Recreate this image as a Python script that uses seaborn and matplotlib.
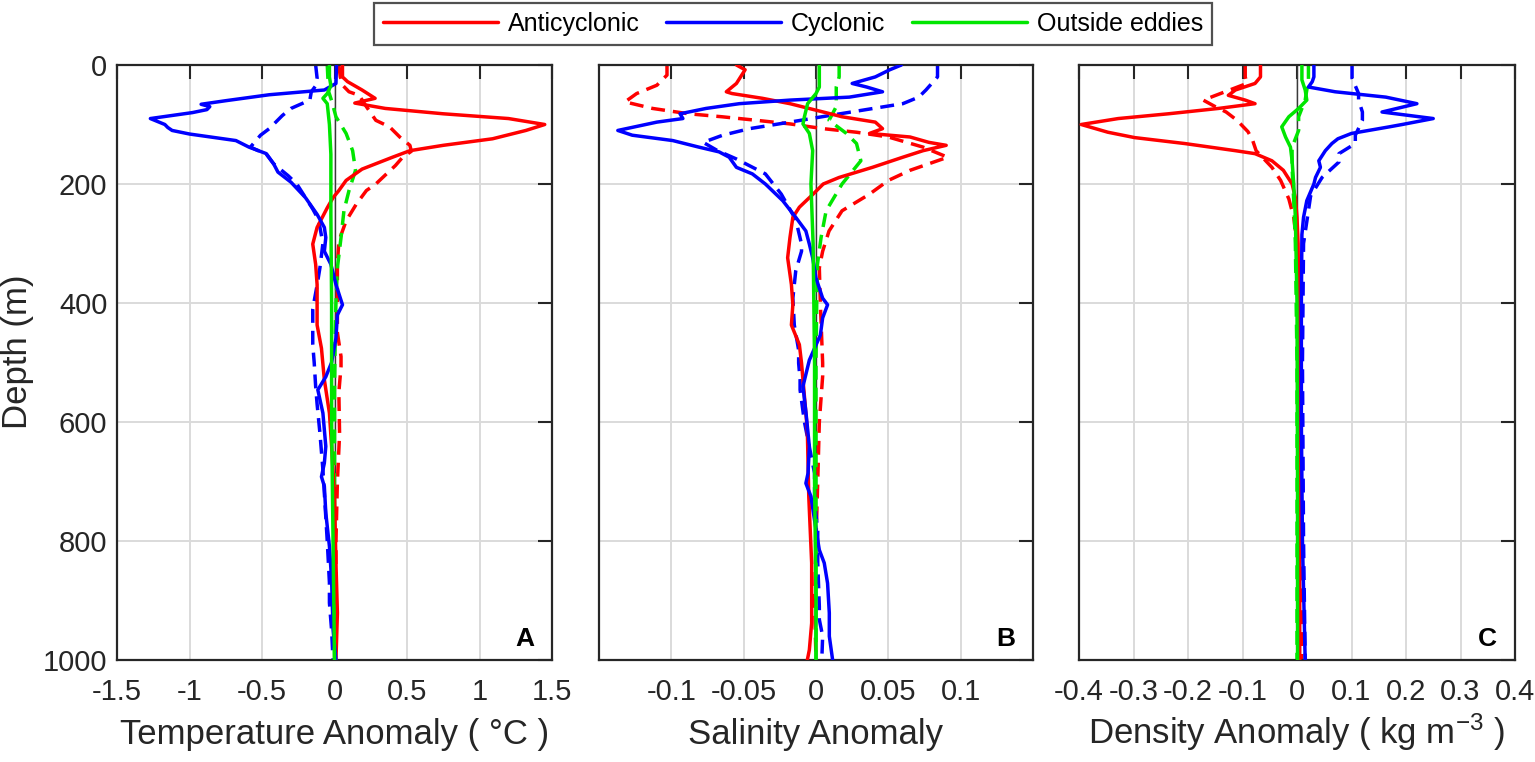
import matplotlib
matplotlib.use("Agg")
import matplotlib.pyplot as plt
import seaborn as sns

# ---------------- data ----------------
# Panel A: temperature anomaly (deg C) vs depth (m)
temp_anti_z = [0, 20, 28, 42, 56, 64, 73, 82, 90, 100, 110, 124, 135, 144, 155, 175, 194, 211, 223, 240, 273, 301,
               335, 369, 403, 437, 476, 529, 585, 641, 725, 837, 921, 1000]
temp_anti = [0.055, 0.055, 0.09, 0.19, 0.28, 0.14, 0.35, 0.75, 1.2, 1.45, 1.32, 1.09, 0.75, 0.52, 0.40, 0.19, 0.08,
             0.03, -0.01, -0.05, -0.12, -0.15, -0.13, -0.12, -0.12, -0.12, -0.09, -0.07, -0.035, -0.02, 0.0, 0.01,
             0.02, 0.01]
temp_anti_dash_z = [0, 20, 35, 45, 51, 70, 93, 104, 121, 135, 145, 155, 169, 185, 200, 211, 234, 262, 279, 296, 335,
                    400, 450, 490, 507, 550, 620, 700, 800, 900, 1000]
temp_anti_dash = [0.03, 0.04, 0.06, 0.10, 0.17, 0.22, 0.285, 0.38, 0.45, 0.52, 0.53, 0.47, 0.42, 0.35, 0.285, 0.22,
                  0.15, 0.08, 0.055, 0.03, 0.02, 0.02, 0.02, 0.045, 0.045, 0.03, 0.035, 0.02, 0.01, 0.01, 0.01]
temp_cyc_z = [0, 31, 42, 50, 60, 66, 70, 75, 80, 90, 100, 105, 110, 116, 127, 138, 149, 166, 180, 197, 223, 251, 273,
              290, 313, 335, 369, 403, 420, 459, 500, 524, 546, 585, 641, 669, 692, 708, 753, 809, 865, 949, 1000]
temp_cyc = [0.014, 0.01, -0.07, -0.45, -0.75, -0.92, -0.86, -0.88, -0.98, -1.27, -1.17, -1.15, -1.12, -1.0, -0.68,
            -0.59, -0.47, -0.42, -0.39, -0.30, -0.20, -0.12, -0.07, -0.06, -0.07, -0.025, 0.01, 0.055, 0.02, 0.01,
            -0.02, -0.06, -0.115, -0.08, -0.06, -0.07, -0.09, -0.07, -0.06, -0.035, -0.02, -0.01, 0.01]
temp_cyc_dash_z = [0, 22, 35, 45, 59, 73, 85, 107, 118, 138, 150, 166, 186, 200, 242, 260, 300, 340, 370, 410, 440,
                   470, 500, 540, 570, 620, 680, 760, 800, 870, 904, 950, 1000]
temp_cyc_dash = [-0.13, -0.12, -0.13, -0.16, -0.17, -0.30, -0.36, -0.45, -0.51, -0.58, -0.47, -0.42, -0.32, -0.26,
                 -0.15, -0.11, -0.08, -0.10, -0.12, -0.15, -0.15, -0.15, -0.14, -0.13, -0.12, -0.10, -0.08, -0.06,
                 -0.05, -0.035, -0.035, -0.02, -0.01]
temp_out_z = [0, 20, 35, 48, 56, 65, 100, 150, 250, 400, 600, 800, 1000]
temp_out = [-0.035, -0.035, -0.025, -0.05, -0.08, -0.05, -0.035, -0.025, -0.025, -0.02, -0.02, -0.01, 0.0]
temp_out_dash_z = [0, 25, 45, 60, 87, 115, 144, 177, 211, 245, 290, 341, 400, 450, 550, 700, 1000]
temp_out_dash = [-0.05, -0.045, -0.04, -0.02, 0.01, 0.08, 0.125, 0.145, 0.10, 0.065, 0.045, 0.02, 0.01, 0.005, 0.0,
                 0.0, 0.0]

# Panel B: salinity anomaly vs depth (m)
sal_anti_z = [0, 8, 31, 45, 48, 56, 65, 79, 87, 96, 107, 115, 121, 130, 135, 144, 155, 172, 189, 200, 217, 239, 256,
              290, 324, 369, 403, 437, 470, 501, 557, 613, 725, 837, 938, 983, 1000]
sal_anti = [-0.055, -0.049, -0.055, -0.062, -0.058, -0.037, -0.018, 0.005, 0.018, 0.041, 0.046, 0.037, 0.065, 0.078,
            0.09, 0.074, 0.06, 0.039, 0.016, 0.005, -0.002, -0.0115, -0.016, -0.018, -0.0196, -0.017, -0.016, -0.017,
            -0.0115, -0.010, -0.008, -0.006, -0.005, -0.003, -0.003, -0.0046, -0.006]
sal_anti_dash_z = [0, 17, 34, 48, 62, 73, 82, 87, 93, 99, 107, 113, 121, 138, 155, 177, 194, 217, 245, 279, 313, 341,
                   400, 501, 523, 600, 700, 800, 900, 1000]
sal_anti_dash = [-0.103, -0.103, -0.11, -0.124, -0.132, -0.113, -0.088, -0.065, -0.041, -0.018, 0.005, 0.028, 0.05,
                 0.074, 0.091, 0.065, 0.05, 0.037, 0.018, 0.009, 0.0046, 0.0023, 0.003, 0.0046, 0.0046, 0.0023,
                 0.0012, 0.0, -0.001, 0.0]
sal_cyc_z = [0, 8, 20, 31, 37, 45, 54, 59, 65, 73, 82, 90, 96, 110, 118, 127, 138, 146, 155, 172, 183, 200, 228, 256,
             279, 301, 324, 358, 392, 403, 425, 454, 496, 540, 585, 641, 686, 703, 725, 781, 815, 837, 871, 921, 960,
             1000]
sal_cyc = [0.059, 0.051, 0.041, 0.025, 0.035, 0.046, 0.023, -0.018, -0.053, -0.076, -0.094, -0.092, -0.11, -0.137,
           -0.127, -0.099, -0.081, -0.067, -0.06, -0.055, -0.044, -0.035, -0.023, -0.014, -0.007, -0.0046, -0.0023,
           0.0, 0.0046, 0.008, 0.0046, 0.003, -0.0046, -0.009, -0.0069, -0.0046, -0.0055, -0.007, -0.0035, 0.0,
           0.0023, 0.0057, 0.008, 0.0092, 0.0092, 0.0115]
sal_cyc_dash_z = [0, 20, 42, 54, 65, 76, 85, 96, 107, 118, 130, 144, 158, 183, 217, 260, 301, 313, 346, 392, 437, 479,
                  501, 529, 546, 600, 686, 736, 781, 837, 910, 932, 960, 1000]
sal_cyc_dash = [0.084, 0.084, 0.076, 0.071, 0.06, 0.032, 0.009, -0.018, -0.046, -0.0645, -0.078, -0.068, -0.055,
                -0.035, -0.024, -0.014, -0.010, -0.010, -0.014, -0.016, -0.015, -0.012, -0.012, -0.011, -0.011,
                -0.008, -0.001, -0.001, 0.0012, 0.0012, 0.0023, 0.0023, 0.0046, 0.004]
sal_out_z = [0, 37, 48, 65, 87, 99, 115, 144, 200, 300, 500, 700, 900, 1000]
sal_out = [0.0023, 0.0023, 0.0, -0.0058, -0.008, -0.009, -0.0046, -0.0023, -0.0035, -0.002, -0.001, -0.001, 0.0, 0.0]
sal_out_dash_z = [0, 20, 37, 70, 93, 115, 132, 161, 200, 245, 290, 335, 400, 500, 700, 1000]
sal_out_dash = [0.016, 0.016, 0.014, 0.014, 0.009, 0.021, 0.028, 0.031, 0.018, 0.007, 0.0035, 0.001, 0.0005, 0.0,
                0.0, 0.0]

# Panel C: density anomaly (kg m-3) vs depth (m)
dens_anti_z = [0, 20, 31, 42, 51, 59, 65, 73, 82, 90, 100, 113, 122, 132, 144, 149, 161, 177, 200, 223, 256, 300, 400,
               600, 800, 1000]
dens_anti = [-0.067, -0.067, -0.077, -0.113, -0.126, -0.095, -0.077, -0.144, -0.236, -0.328, -0.396, -0.347, -0.298,
             -0.206, -0.113, -0.077, -0.046, -0.025, -0.009, -0.003, 0.0, 0.002, 0.003, 0.004, 0.005, 0.005]
dens_anti_dash_z = [0, 20, 31, 59, 70, 79, 93, 112, 125, 144, 172, 194, 225, 256, 300, 400, 600, 800, 1000]
dens_anti_dash = [-0.095, -0.095, -0.092, -0.172, -0.15, -0.13, -0.11, -0.09, -0.082, -0.075, -0.046, -0.03, -0.015,
                  -0.006, 0.0, 0.005, 0.008, 0.008, 0.008]
dens_cyc_z = [0, 20, 28, 37, 45, 54, 65, 79, 90, 100, 104, 115, 124, 132, 144, 161, 172, 189, 200, 228, 256, 285, 400,
              600, 800, 1000]
dens_cyc = [0.031, 0.031, 0.028, 0.021, 0.07, 0.163, 0.22, 0.156, 0.25, 0.193, 0.169, 0.10, 0.075, 0.064, 0.052,
            0.04, 0.043, 0.034, 0.031, 0.018, 0.012, 0.009, 0.008, 0.008, 0.01, 0.015]
dens_cyc_dash_z = [0, 22, 48, 59, 79, 93, 118, 132, 149, 163, 189, 220, 300, 500, 800, 1000]
dens_cyc_dash = [0.101, 0.101, 0.113, 0.113, 0.12, 0.12, 0.107, 0.107, 0.077, 0.077, 0.046, 0.025, 0.012, 0.01,
                 0.012, 0.015]
dens_out_z = [0, 25, 42, 59, 73, 87, 104, 121, 138, 161, 200, 256, 400, 700, 1000]
dens_out = [0.009, 0.009, 0.015, 0.018, 0.003, -0.015, -0.028, -0.021, -0.012, -0.009, -0.006, -0.003, 0.0, 0.001,
            0.001]
dens_out_dash_z = [0, 25, 42, 59, 87, 110, 138, 172, 228, 300, 500, 1000]
dens_out_dash = [0.021, 0.021, 0.018, 0.015, 0.003, 0.003, -0.009, -0.009, -0.006, -0.003, 0.0, 0.0]

# legend / axis text
series_labels = ["Anticyclonic", "Cyclonic", "Outside eddies"]
series_colors = ["#ff0000", "#0000ff", "#00e600"]
depth_ticks = [0, 200, 400, 600, 800, 1000]
temp_ticks = [-1.5, -1, -0.5, 0, 0.5, 1, 1.5]
temp_ticklabels = ["-1.5", "-1", "-0.5", "0", "0.5", "1", "1.5"]
sal_ticks = [-0.1, -0.05, 0, 0.05, 0.1]
sal_ticklabels = ["-0.1", "-0.05", "0", "0.05", "0.1"]
dens_ticks = [-0.4, -0.3, -0.2, -0.1, 0, 0.1, 0.2, 0.3, 0.4]
dens_ticklabels = ["-0.4", "-0.3", "-0.2", "-0.1", "0", "0.1", "0.2", "0.3", "0.4"]
zero_ref = 0.0

# ---------------- style ----------------
sns.set_theme(style="white")
plt.rcParams['font.family'] = ['Liberation Sans', 'DejaVu Sans']
plt.rcParams['axes.unicode_minus'] = False
plt.rcParams['mathtext.fontset'] = 'custom'
plt.rcParams['mathtext.rm'] = 'Liberation Sans'
plt.rcParams['mathtext.it'] = 'Liberation Sans:italic'
TXT = '#262626'
GRID = '#dadada'
DASH = (0, (4, 2.3))
LW = 2.5

W, H = 1535, 762
fig = plt.figure(figsize=(W / 100, H / 100), dpi=100)
AX_TOP, AX_BOT = 65, 660
bottom = (H - AX_BOT) / H
height = (AX_BOT - AX_TOP) / H

panels = [
    dict(x0=117, x1=552, xlim=(-1.5, 1.5), ticks=temp_ticks, labels=temp_ticklabels,
         xlabel='Temperature Anomaly ( °C )', letter='A',
         data=[(temp_anti, temp_anti_z, temp_anti_dash, temp_anti_dash_z),
               (temp_cyc, temp_cyc_z, temp_cyc_dash, temp_cyc_dash_z),
               (temp_out, temp_out_z, temp_out_dash, temp_out_dash_z)]),
    dict(x0=599, x1=1033, xlim=(-0.15, 0.15), ticks=sal_ticks, labels=sal_ticklabels,
         xlabel='Salinity Anomaly', letter='B',
         data=[(sal_anti, sal_anti_z, sal_anti_dash, sal_anti_dash_z),
               (sal_cyc, sal_cyc_z, sal_cyc_dash, sal_cyc_dash_z),
               (sal_out, sal_out_z, sal_out_dash, sal_out_dash_z)]),
    dict(x0=1079, x1=1515, xlim=(-0.4, 0.4), ticks=dens_ticks, labels=dens_ticklabels,
         xlabel='Density Anomaly ( kg m$^{-3}$ )', letter='C',
         data=[(dens_anti, dens_anti_z, dens_anti_dash, dens_anti_dash_z),
               (dens_cyc, dens_cyc_z, dens_cyc_dash, dens_cyc_dash_z),
               (dens_out, dens_out_z, dens_out_dash, dens_out_dash_z)]),
]

axes = []
for i, p in enumerate(panels):
    axw = p['x1'] - p['x0']
    ax = fig.add_axes([p['x0'] / W, bottom, axw / W, height])
    axes.append(ax)
    ax.set_axisbelow(True)
    ax.grid(True, color=GRID, linewidth=1.4)
    ax.axvline(zero_ref, color='#3a3a3a', linewidth=1.0, zorder=1.5)
    for (sv, sz, dv, dz), col, lab in zip(p['data'], series_colors, series_labels):
        sns.lineplot(x=dv, y=dz, sort=False, estimator=None, orient='y', ax=ax, color=col,
                     linewidth=LW, linestyle=DASH, legend=False, zorder=2)
        sns.lineplot(x=sv, y=sz, sort=False, estimator=None, orient='y', ax=ax, color=col,
                     linewidth=LW, legend=False, label=lab, zorder=3)
    ax.set_xlim(*p['xlim'])
    ax.set_ylim(1000, 0)
    ax.set_xticks(p['ticks'])
    ax.set_xticklabels(p['labels'])
    ax.set_yticks(depth_ticks)
    if i == 0:
        ax.set_yticklabels([str(t) for t in depth_ticks])
        ax.set_ylabel('Depth (m)', fontsize=25, color=TXT)
        ax.yaxis.label.set_va('center')
        ax.yaxis.set_label_coords((18 - p['x0']) / axw, (AX_BOT - 352) / (AX_BOT - AX_TOP))
    else:
        ax.set_yticklabels([])
        ax.set_ylabel('')
    ax.set_xlabel(p['xlabel'], fontsize=25, color=TXT)
    ax.xaxis.label.set_va('baseline')
    ax.xaxis.set_label_coords(0.5, -(744 - AX_BOT) / (AX_BOT - AX_TOP))
    ax.tick_params(axis='both', direction='in', length=10, width=1.5, colors=TXT,
                   top=True, right=True, labelsize=21)
    ax.tick_params(axis='x', pad=13)
    ax.tick_params(axis='y', pad=7)
    for s in ax.spines.values():
        s.set_color(TXT)
        s.set_linewidth(1.6)
        s.set_visible(True)
    ax.text(0.959, 0.024, p['letter'], transform=ax.transAxes, ha='right', va='baseline',
            fontsize=19, fontweight='bold', color='black')

handles, labels = axes[0].get_legend_handles_labels()
leg = fig.legend(handles, labels, loc='upper center', bbox_to_anchor=(793 / W, 1 - 3 / H), ncol=3,
                 fontsize=18, handlelength=4.6, handletextpad=0.4, columnspacing=1.05,
                 frameon=True, fancybox=False, edgecolor=TXT, borderpad=0.35, borderaxespad=0)
leg.get_frame().set_linewidth(1.6)
for t in leg.get_texts():
    t.set_color('black')

fig.savefig('out.png', dpi=100)
